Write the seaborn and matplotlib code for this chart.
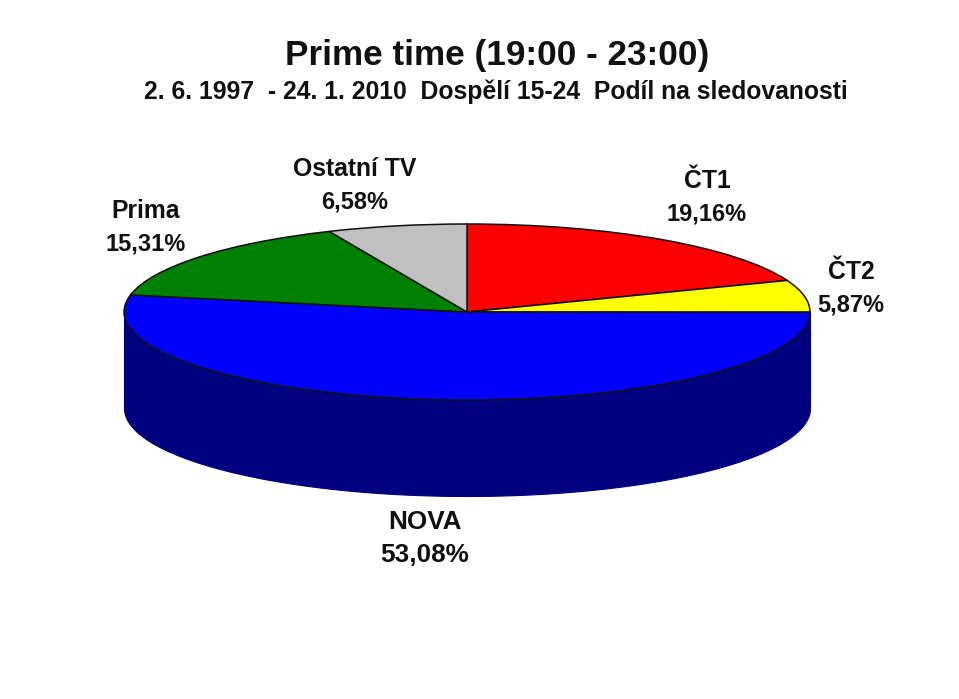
import numpy as np
import seaborn as sns
import matplotlib.pyplot as plt

stanice = ['ČT1', 'ČT2', 'NOVA', 'Prima', 'Ostatní TV']
podil = [19.16, 5.87, 53.08, 15.31, 6.58]
popisky = ['19,16%', '5,87%', '53,08%', '15,31%', '6,58%']
barvy = ['#ff0000', '#ffff00', '#0000ff', '#008000', '#c0c0c0']

sns.set_theme(style='white')
plt.rcParams['font.family'] = ['Liberation Sans', 'DejaVu Sans']

W, H = 959, 699
cx, cy, rx, ry = 467, 312, 343, 88
hloubka = 96 / ry

fig = plt.figure(figsize=(W / 100, H / 100), dpi=100, facecolor='white')
ax = fig.add_axes([0, 0, 1, 1])

# dolni strana valce pod segmentem NOVA
t = np.radians(np.linspace(180, 360, 300))
ax.fill_between(np.cos(t), np.sin(t), np.sin(t) - hloubka, color='#000080', lw=0.8, zorder=1)

ax.pie(podil, colors=barvy, startangle=90, counterclock=False, radius=1,
       wedgeprops={'edgecolor': '#101010', 'linewidth': 1.1, 'zorder': 2})
ax.set_aspect('auto')
ax.set_xlim(-cx / rx, (W - cx) / rx)
ax.set_ylim(-(H - cy) / ry, cy / ry)
ax.axis('off')

def text(x, y, s, size):
    fig.text(x / W, 1 - y / H, s, fontsize=size, fontweight='bold', color='#111111',
             ha='center', va='center')

text(497, 56, 'Prime time (19:00 - 23:00)', 25.3)
text(496, 92, '2. 6. 1997  - 24. 1. 2010  Dospělí 15-24  Podíl na sledovanosti', 17.8)

pozice = [(707, 181), (851, 272), (425, 522), (146, 211), (355, 169)]
for (x, y), s, p in zip(pozice, stanice, popisky):
    # NOVA je v originale o neco vetsi
    velka = s == 'NOVA'
    text(x, y, s, 18.8 if velka else 17.8)
    text(x, y + 33, p, 18.8 if velka else 17)

fig.savefig('out.png', dpi=100)
